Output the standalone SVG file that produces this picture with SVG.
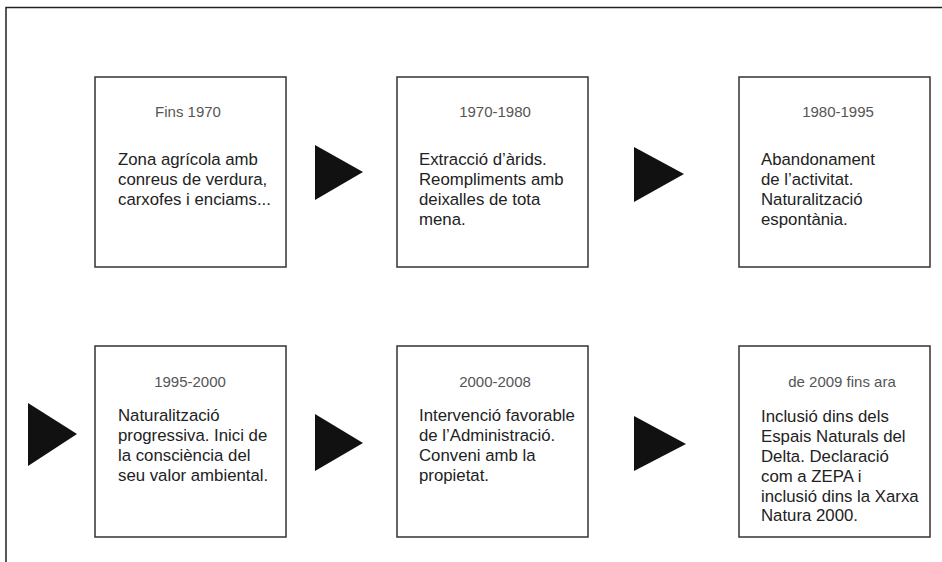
<svg xmlns="http://www.w3.org/2000/svg" width="942" height="562" viewBox="0 0 942 562">
<style>
.box{fill:#fff;stroke:#333;stroke-width:1.5}
.title{font-family:"Liberation Sans",Arial,sans-serif;font-size:15px;fill:#555;text-anchor:middle}
.body{font-family:"Liberation Sans",Arial,sans-serif;font-size:16.8px;fill:#222}
.tri{fill:#111}
.frame{fill:none;stroke:#222;stroke-width:1.5}
</style>
<rect width="942" height="562" fill="#fff"/>
<path class="frame" d="M6,562 V7.5 H942"/>
<g id="n1">
<rect class="box" x="95" y="77" width="191" height="190"/>
<text class="title" x="188" y="117">Fins 1970</text>
<text class="body" x="118" y="165">Zona agrícola amb</text>
<text class="body" x="118" y="185">conreus de verdura,</text>
<text class="body" x="118" y="205">carxofes i enciams...</text>
</g>
<g id="n2">
<rect class="box" x="397" y="77" width="191" height="190"/>
<text class="title" x="495" y="117">1970-1980</text>
<text class="body" x="419" y="165">Extracció d’àrids.</text>
<text class="body" x="419" y="185">Reompliments amb</text>
<text class="body" x="419" y="205">deixalles de tota</text>
<text class="body" x="419" y="225">mena.</text>
</g>
<g id="n3">
<rect class="box" x="739" y="77" width="191" height="190"/>
<text class="title" x="838" y="117">1980-1995</text>
<text class="body" x="761" y="165">Abandonament</text>
<text class="body" x="761" y="185">de l’activitat.</text>
<text class="body" x="761" y="205">Naturalització</text>
<text class="body" x="761" y="225">espontània.</text>
</g>
<g id="n4">
<rect class="box" x="95" y="346" width="191" height="191"/>
<text class="title" x="190" y="387">1995-2000</text>
<text class="body" x="118" y="421">Naturalització</text>
<text class="body" x="118" y="441">progressiva. Inici de</text>
<text class="body" x="118" y="461">la consciència del</text>
<text class="body" x="118" y="481">seu valor ambiental.</text>
</g>
<g id="n5">
<rect class="box" x="397" y="346" width="191" height="191"/>
<text class="title" x="495" y="387">2000-2008</text>
<text class="body" x="419" y="421">Intervenció favorable</text>
<text class="body" x="419" y="441">de l’Administració.</text>
<text class="body" x="419" y="461">Conveni amb la</text>
<text class="body" x="419" y="481">propietat.</text>
</g>
<g id="n6">
<rect class="box" x="739" y="346" width="191" height="191"/>
<text class="title" x="842" y="387">de 2009 fins ara</text>
<text class="body" x="761" y="422">Inclusió dins dels</text>
<text class="body" x="761" y="442">Espais Naturals del</text>
<text class="body" x="761" y="462">Delta. Declaració</text>
<text class="body" x="761" y="482">com a ZEPA i</text>
<text class="body" x="761" y="502">inclusió dins la Xarxa</text>
<text class="body" x="761" y="521">Natura 2000.</text>
</g>
<g id="connectors">
<polygon class="tri" points="315,145 363,172 315,200"/>
<polygon class="tri" points="634,147 684,174 634,202"/>
<polygon class="tri" points="28,403 77,434 28,466"/>
<polygon class="tri" points="315,414 363,443 315,471"/>
<polygon class="tri" points="634,416 686,444 634,471"/>
</g>
</svg>
